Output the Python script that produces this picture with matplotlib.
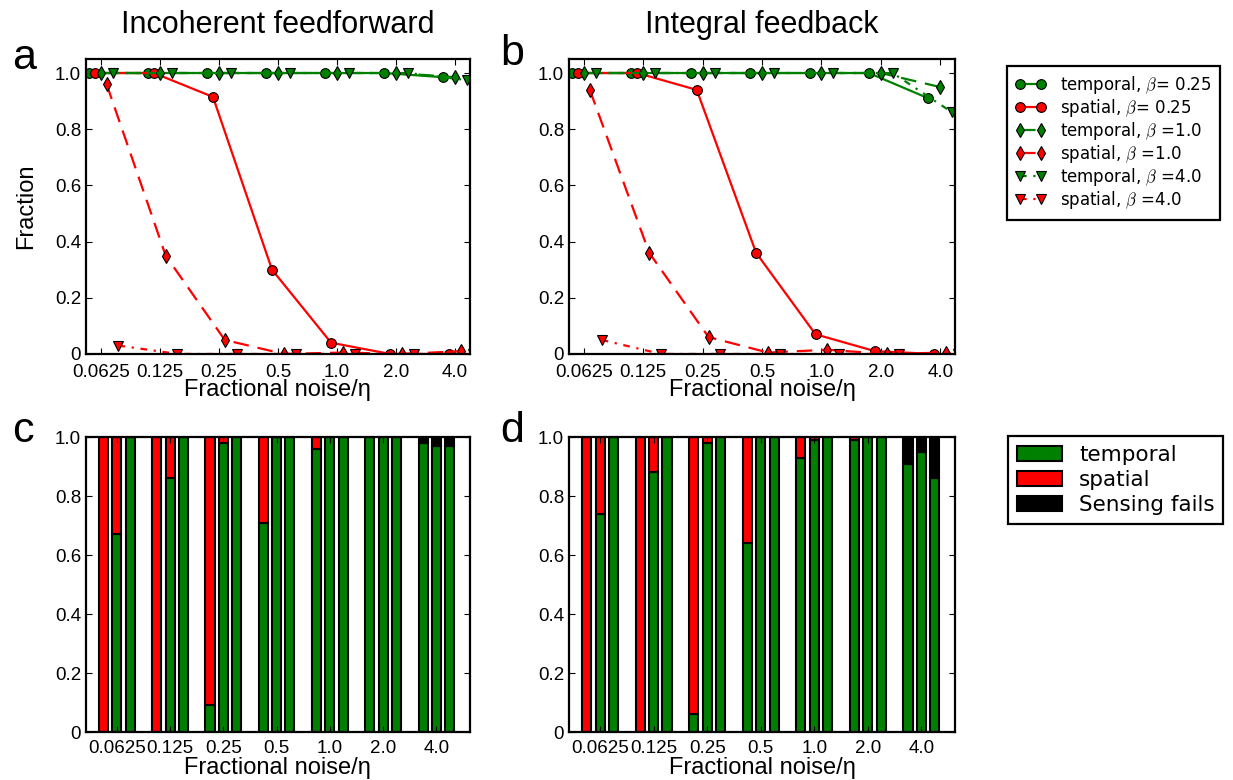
#!/usr/bin/env python
# -*- coding: utf-8 -*-

"""Fraccion de sensado temporal / espacial frente al ruido fraccional"""

from matplotlib import pyplot as plt
from matplotlib.font_manager import FontProperties
from matplotlib.lines import Line2D
from matplotlib.patches import Patch
import numpy as np

# ---- datos ----
noise_labels = ['0.0625', '0.125', '0.25', '0.5', '1.0', '2.0', '4.0']
beta_labels = ['0.25', '1.0', '4.0']

# a: incoherent feedforward
iff_temp_025 = [1.0, 1.0, 1.0, 1.0, 1.0, 1.0, 0.985]
iff_spat_025 = [1.0, 1.0, 0.915, 0.30, 0.04, 0.0, 0.0]
iff_temp_1 = [1.0, 1.0, 1.0, 1.0, 1.0, 1.0, 0.985]
iff_spat_1 = [0.96, 0.35, 0.05, 0.0, 0.005, 0.0, 0.01]
iff_temp_4 = [1.0, 1.0, 1.0, 1.0, 1.0, 1.0, 0.975]
iff_spat_4 = [0.03, 0.0, 0.0, 0.0, 0.0, 0.0, 0.0]

# b: integral feedback
ifb_temp_025 = [1.0, 1.0, 1.0, 1.0, 1.0, 1.0, 0.91]
ifb_spat_025 = [1.0, 1.0, 0.94, 0.36, 0.07, 0.01, 0.0]
ifb_temp_1 = [1.0, 1.0, 1.0, 1.0, 1.0, 1.0, 0.95]
ifb_spat_1 = [0.94, 0.36, 0.06, 0.005, 0.015, 0.0, 0.005]
ifb_temp_4 = [1.0, 1.0, 1.0, 1.0, 1.0, 1.0, 0.86]
ifb_spat_4 = [0.05, 0.0, 0.0, 0.0, 0.0, 0.0, 0.0]

# c: barras incoherent feedforward (beta = 0.25, 1.0, 4.0)
c_temp_025 = [0.0, 0.0, 0.09, 0.71, 0.96, 1.0, 0.98]
c_spat_025 = [1.0, 1.0, 0.91, 0.29, 0.04, 0.0, 0.0]
c_fail_025 = [0.0, 0.0, 0.0, 0.0, 0.0, 0.0, 0.02]
c_temp_1 = [0.67, 0.86, 0.98, 1.0, 1.0, 1.0, 0.97]
c_spat_1 = [0.33, 0.14, 0.02, 0.0, 0.0, 0.0, 0.0]
c_fail_1 = [0.0, 0.0, 0.0, 0.0, 0.0, 0.0, 0.03]
c_temp_4 = [1.0, 1.0, 1.0, 1.0, 1.0, 1.0, 0.97]
c_spat_4 = [0.0, 0.0, 0.0, 0.0, 0.0, 0.0, 0.0]
c_fail_4 = [0.0, 0.0, 0.0, 0.0, 0.0, 0.0, 0.03]

# d: barras integral feedback
d_temp_025 = [0.0, 0.0, 0.06, 0.64, 0.93, 0.99, 0.91]
d_spat_025 = [1.0, 1.0, 0.94, 0.36, 0.07, 0.01, 0.0]
d_fail_025 = [0.0, 0.0, 0.0, 0.0, 0.0, 0.0, 0.09]
d_temp_1 = [0.74, 0.88, 0.98, 1.0, 0.99, 1.0, 0.95]
d_spat_1 = [0.26, 0.12, 0.02, 0.0, 0.01, 0.0, 0.0]
d_fail_1 = [0.0, 0.0, 0.0, 0.0, 0.0, 0.0, 0.05]
d_temp_4 = [1.0, 1.0, 1.0, 1.0, 1.0, 1.0, 0.86]
d_spat_4 = [0.0, 0.0, 0.0, 0.0, 0.0, 0.0, 0.0]
d_fail_4 = [0.0, 0.0, 0.0, 0.0, 0.0, 0.0, 0.14]

# ---- estilo ----
GREEN = (0.0, 0.5, 0.0)
RED = (1.0, 0.0, 0.0)
SANS = ['Liberation Sans', 'DejaVu Sans']

plt.rcParams['font.family'] = SANS
plt.rcParams['axes.linewidth'] = 1.6
plt.rcParams['xtick.direction'] = 'in'
plt.rcParams['ytick.direction'] = 'in'
plt.rcParams['xtick.top'] = True
plt.rcParams['ytick.right'] = True
plt.rcParams['xtick.major.size'] = 4
plt.rcParams['ytick.major.size'] = 4
plt.rcParams['xtick.major.pad'] = 5.5
plt.rcParams['ytick.major.pad'] = 3.5
plt.rcParams['xtick.labelsize'] = 13.5
plt.rcParams['ytick.labelsize'] = 13.5

line_styles = ['-', (0, (7, 4)), (0, (3, 3, 1, 3))]
markers = ['o', 'd', 'v']
offsets = [-0.2, -0.1, 0.0, 0.1, 0.2, 0.3]
bar_offsets = [-0.25, 0.0, 0.25]
bar_width = 0.17

yticks = [0, 0.2, 0.4, 0.6, 0.8, 1.0]
ytick_labels = ['0', '0.2', '0.4', '0.6', '0.8', '1.0']
xlabel = 'Fractional noise/η'


def panel_lineas(ax, series):
	"""Dibuja las 6 curvas (temporal/espacial para cada beta)."""
	idx = np.arange(len(noise_labels))
	for k, vals in enumerate(series):
		color = GREEN if k % 2 == 0 else RED
		ax.plot(idx + offsets[k], vals, color=color, ls=line_styles[k // 2], lw=1.6,
				marker=markers[k // 2], ms=7, mec='k', mew=0.8, dash_capstyle='butt')
	ax.set_xlim(-0.25, 6.25)
	ax.set_ylim(0, 1.05)
	ax.set_xticks(idx)
	ax.set_xticklabels(noise_labels)
	ax.tick_params(axis='x', pad=7.5)
	ax.set_yticks(yticks)
	ax.set_yticklabels(ytick_labels)
	ax.set_xlabel(xlabel, fontsize=17, labelpad=-1.5)


def panel_barras(ax, temp, spat, fail):
	"""Barras apiladas: temporal, espacial y fallos de sensado."""
	idx = np.arange(len(noise_labels))
	for j in range(3):
		x = idx + bar_offsets[j]
		ax.bar(x, temp[j], bar_width, color=GREEN, edgecolor='k', lw=1.5)
		ax.bar(x, spat[j], bar_width, bottom=temp[j], color=RED, edgecolor='k', lw=1.5)
		ax.bar(x, fail[j], bar_width, bottom=np.add(temp[j], spat[j]), color='k',
			   edgecolor='k', lw=1.5)
	ax.set_xlim(-0.58, 6.63)
	ax.set_ylim(0, 1.0)
	ax.set_xticks(idx)
	ax.set_xticklabels(noise_labels)
	ax.set_yticks(yticks)
	ax.set_yticklabels(ytick_labels)
	ax.set_xlabel(xlabel, fontsize=17, labelpad=0)


fig = plt.figure(figsize=(12.33, 7.8), dpi=100)
ax_a = fig.add_axes([0.0697, 0.5462, 0.3114, 0.3782])
ax_b = fig.add_axes([0.4615, 0.5462, 0.3131, 0.3782])
ax_c = fig.add_axes([0.0697, 0.0615, 0.3114, 0.3782])
ax_d = fig.add_axes([0.4615, 0.0615, 0.3131, 0.3782])

panel_lineas(ax_a, [iff_temp_025, iff_spat_025, iff_temp_1, iff_spat_1, iff_temp_4, iff_spat_4])
panel_lineas(ax_b, [ifb_temp_025, ifb_spat_025, ifb_temp_1, ifb_spat_1, ifb_temp_4, ifb_spat_4])
panel_barras(ax_c, [c_temp_025, c_temp_1, c_temp_4], [c_spat_025, c_spat_1, c_spat_4],
			 [c_fail_025, c_fail_1, c_fail_4])
panel_barras(ax_d, [d_temp_025, d_temp_1, d_temp_4], [d_spat_025, d_spat_1, d_spat_4],
			 [d_fail_025, d_fail_1, d_fail_4])

ax_a.set_ylabel('Fraction', fontsize=17, labelpad=13)
ax_a.set_title('Incoherent feedforward', fontsize=22, pad=19)
ax_b.set_title('Integral feedback', fontsize=22, pad=19)

for letra, x, y in [('a', 0.0095, 0.912), ('b', 0.406, 0.917), ('c', 0.0095, 0.433), ('d', 0.406, 0.433)]:
	fig.text(x, y, letra, fontsize=31, ha='left', va='baseline')

# leyenda de las curvas
leg_prop = FontProperties(family='DejaVu Sans', size=12, math_fontfamily='cm')
handles = []
labels = []
for k in range(6):
	color = GREEN if k % 2 == 0 else RED
	handles.append(Line2D([], [], color=color, ls=line_styles[k // 2], lw=1.6,
						  marker=markers[k // 2], ms=7, mec='k', mew=0.8))
	tipo = 'temporal' if k % 2 == 0 else 'spatial'
	b = beta_labels[k // 2]
	if b == '0.25':
		labels.append(tipo + r', $\beta$= ' + b)
	else:
		labels.append(tipo + r', $\beta$ =' + b)
leg1 = fig.legend(handles, labels, loc='upper left', bbox_to_anchor=(0.8167, 0.9154),
				  numpoints=2, prop=leg_prop, fancybox=False, edgecolor='k', framealpha=1,
				  borderaxespad=0, borderpad=0.5, labelspacing=0.06, handlelength=1.86,
				  handletextpad=0.85)
leg1.get_frame().set_linewidth(1.6)

# leyenda de las barras
bar_handles = [Patch(facecolor=GREEN, edgecolor='k', lw=1.5),
			   Patch(facecolor=RED, edgecolor='k', lw=1.5),
			   Patch(facecolor='k', edgecolor='k', lw=1.5)]
leg2 = fig.legend(bar_handles, ['temporal', 'spatial', 'Sensing fails'], loc='upper left',
				  bbox_to_anchor=(0.8175, 0.441), prop=FontProperties(family='DejaVu Sans', size=15.5),
				  fancybox=False, edgecolor='k', framealpha=1, borderaxespad=0, borderpad=0.4,
				  labelspacing=0.25, handlelength=2.1, handletextpad=0.8)
leg2.get_frame().set_linewidth(1.6)

plt.savefig('out.png', dpi=100)
